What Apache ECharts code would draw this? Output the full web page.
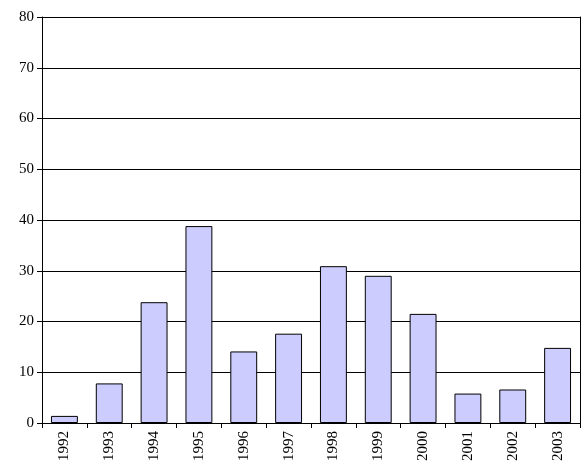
<!DOCTYPE html>
<html>
<head><meta charset="UTF-8"><script src="https://cdn.jsdelivr.net/npm/echarts@6/dist/echarts.min.js"></script></head>
<body style="margin:0">
<div id="main" style="width:585px;height:472px;"></div>
<script>
var years = ['1992','1993','1994','1995','1996','1997','1998','1999','2000','2001','2002','2003'];
var values = [1.4, 7.8, 23.8, 38.8, 14.1, 17.6, 30.9, 29, 21.5, 5.8, 6.6, 14.8];

var font = '"Times New Roman", "Liberation Serif", Times, serif';
var chart = echarts.init(document.getElementById('main'));
chart.setOption({
    animation: false,
    grid: {left: 42, right: 5, top: 17, bottom: 49},
    xAxis: {
        type: 'category', data: years,
        axisLine: {lineStyle: {color: '#000'}},
        axisTick: {show: true, lineStyle: {color: '#000'}, length: 5},
        axisLabel: {rotate: 90, color: '#000', fontFamily: font, fontSize: 15, margin: 8}
    },
    yAxis: [{
        type: 'value', min: 0, max: 80, interval: 10,
        axisLine: {show: true, lineStyle: {color: '#000'}},
        axisTick: {show: true, lineStyle: {color: '#000'}, length: 5},
        splitLine: {lineStyle: {color: '#000'}},
        axisLabel: {color: '#000', fontFamily: font, fontSize: 15}
    }, {
        type: 'value', min: 0, max: 80, position: 'right',
        axisLine: {show: true, lineStyle: {color: '#000'}},
        axisTick: {show: false}, axisLabel: {show: false}, splitLine: {show: false}
    }],
    series: [{
        type: 'bar', data: values, barWidth: '60%',
        itemStyle: {color: '#ccccff', borderColor: '#000', borderWidth: 1}
    }]
});
</script>
</body>
</html>
